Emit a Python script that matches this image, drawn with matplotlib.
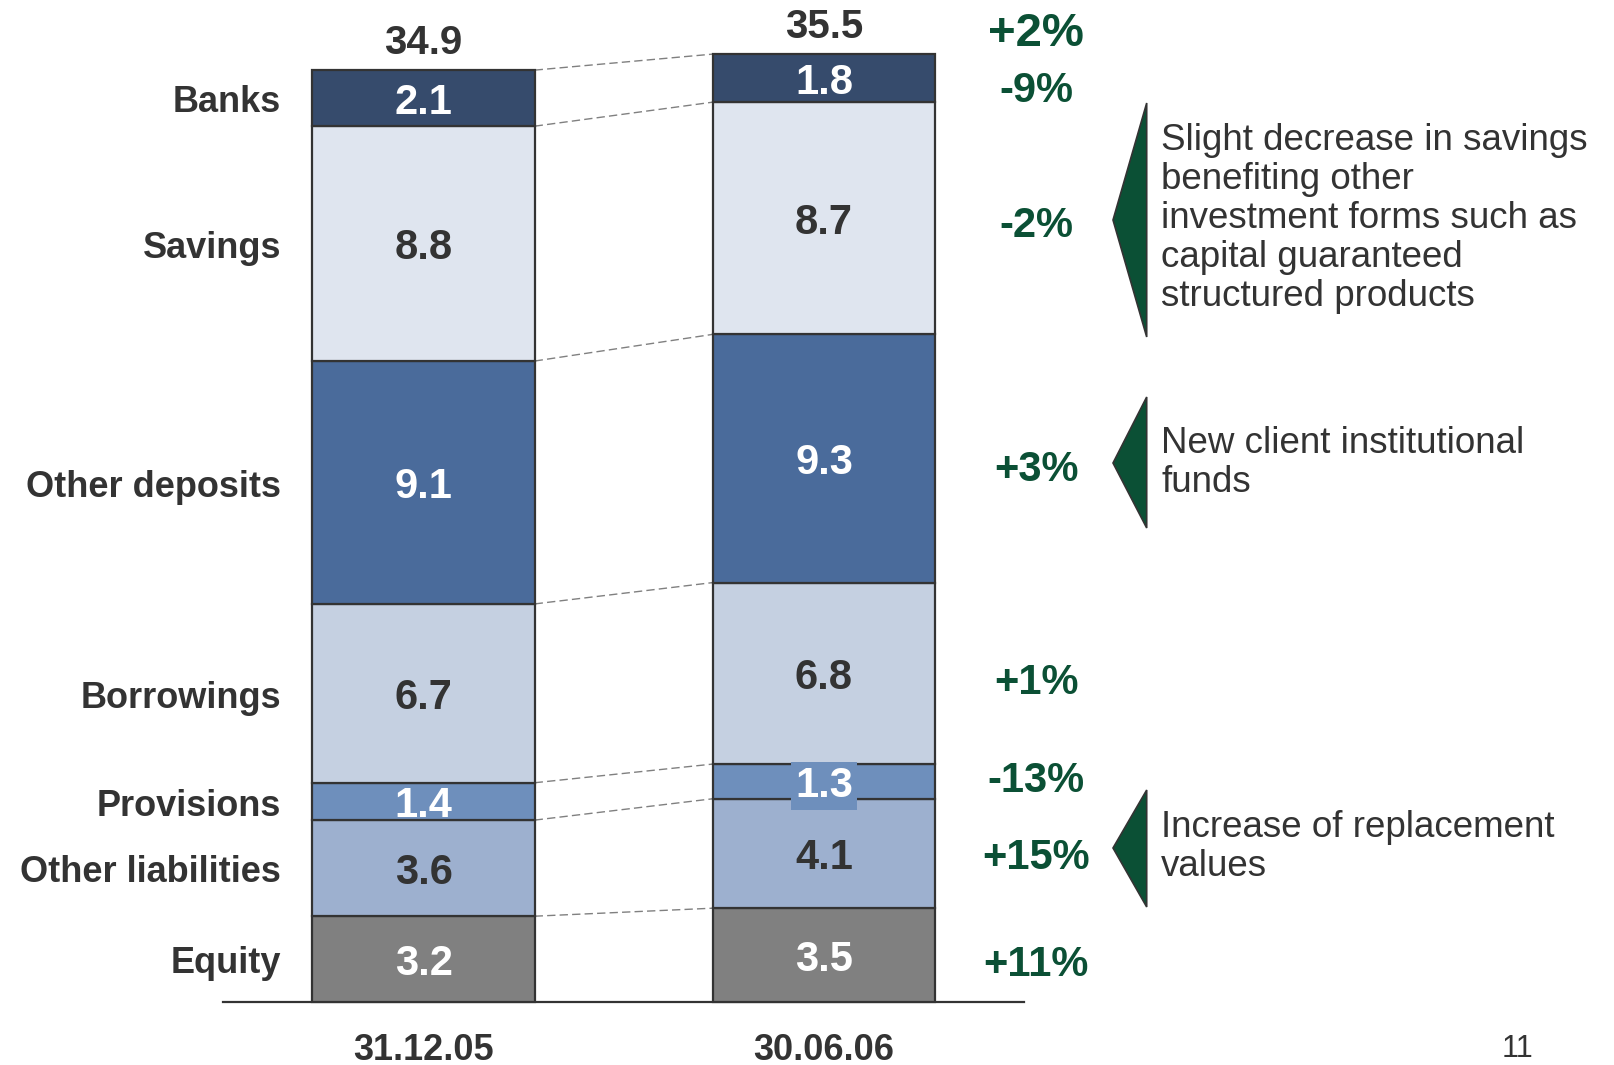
import numpy as np
import matplotlib.pyplot as plt
from matplotlib.patches import Polygon

plt.rcParams['font.family'] = ['Liberation Sans', 'DejaVu Sans']

# data
categories = ['Equity', 'Other liabilities', 'Provisions', 'Borrowings',
              'Other deposits', 'Savings', 'Banks']
dates = ['31.12.05', '30.06.06']
values_2005 = [3.2, 3.6, 1.4, 6.7, 9.1, 8.8, 2.1]
values_2006 = [3.5, 4.1, 1.3, 6.8, 9.3, 8.7, 1.8]
totals = [34.9, 35.5]
changes = ['+11%', '+15%', '-13%', '+1%', '+3%', '-2%', '-9%']
total_change = '+2%'
comments = ['Slight decrease in savings\nbenefiting other\ninvestment forms such as\ncapital guaranteed\nstructured products',
            'New client institutional\nfunds',
            'Increase of replacement\nvalues']

colors = ['#808080', '#9db0cf', '#6e8fbc', '#c5d0e1', '#4a6b9b', '#dfe5ef', '#364b6c']
txt_colors = ['white', '#333333', 'white', '#333333', 'white', '#333333', 'white']
dark = '#333333'
green = '#0b5035'

W, H = 1614, 1065
base_px, scale = 1001.6, 26.69
x0_px, dx_px = 423.5, 400.5


def py(p):
    # pixel row -> data y (layout helper for annotations)
    return (base_px - p) / scale


def px(p):
    return (p - x0_px) / dx_px


fig = plt.figure(figsize=(W / 100, H / 100), dpi=100)
ax = fig.add_axes([0, 0, 1, 1])
ax.set_xlim(px(0), px(W))
ax.set_ylim(py(H), py(0))
ax.axis('off')

width = 0.555
xs = np.arange(2)
series = [values_2005, values_2006]
bottoms = [np.concatenate([[0], np.cumsum(v)[:-1]]) for v in series]
tops = [np.cumsum(v) for v in series]
dy = -0.18  # text nudge down

for i, vals in enumerate(series):
    ax.bar(np.full(len(vals), xs[i]), vals, width=width, bottom=bottoms[i],
           color=colors, edgecolor=dark, linewidth=1.6, zorder=2)
    for j, v in enumerate(vals):
        yc = bottoms[i][j] + v / 2 + dy
        bbox = None
        if i == 1 and categories[j] == 'Provisions':
            bbox = dict(facecolor=colors[j], edgecolor='none', pad=3)
        ax.text(xs[i], yc, f'{v:.1f}', ha='center', va='center', fontsize=30,
                fontweight='bold', color=txt_colors[j], zorder=3, bbox=bbox)
    ax.text(xs[i], totals[i] + 1.0, f'{totals[i]:.1f}', ha='center', va='center',
            fontsize=29, fontweight='bold', color=dark)
    ax.text(xs[i], py(1050), dates[i], ha='center', va='center', fontsize=26,
            fontweight='bold', color=dark)

# dashed connectors between segment boundaries
for a, b in zip(tops[0], tops[1]):
    ax.plot([xs[0] + width / 2, xs[1] - width / 2], [a, b], color='#808080',
            linestyle=(0, (6, 3)), linewidth=1.0, zorder=1)

# baseline
ax.plot([-0.5, 1.5], [0, 0], color=dark, linewidth=1.6, zorder=1)

# category labels at 2005 segment centres
for j, c in enumerate(categories):
    ax.text(px(281), bottoms[0][j] + values_2005[j] / 2 + dy, c, ha='right', va='center',
            fontsize=26, fontweight='bold', color=dark)

# change labels at 2006 segment centres
chg_offsets = [-0.2, 0.0, 0.2, -0.2, -0.25, -0.1, -0.3]
for j, c in enumerate(changes):
    ax.text(px(1036), bottoms[1][j] + values_2006[j] / 2 + chg_offsets[j] + dy, c,
            ha='center', va='center', fontsize=30, fontweight='bold', color=green)
ax.text(px(1036), totals[1] + 0.75, total_change, ha='center', va='center',
        fontsize=34, fontweight='bold', color=green)

# comment arrows
tris = [(103, 337, 220), (397, 528, 463), (790, 907, 848)]
text_tops = [143, 446, 830]
for (t, b, m), tt, txt in zip(tris, text_tops, comments):
    poly = Polygon([[px(1146.7), py(t)], [px(1146.7), py(b)], [px(1113), py(m)]],
                   closed=True, facecolor=green, edgecolor=dark, linewidth=1.2)
    ax.add_patch(poly)
    ax.text(px(1161), py(tt - 20), txt, ha='left', va='top', fontsize=26.5,
            color=dark, linespacing=1.15)

ax.text(px(1518), py(1049), '11', ha='center', va='center', fontsize=22, color=dark)

fig.savefig('out.png', dpi=100)
